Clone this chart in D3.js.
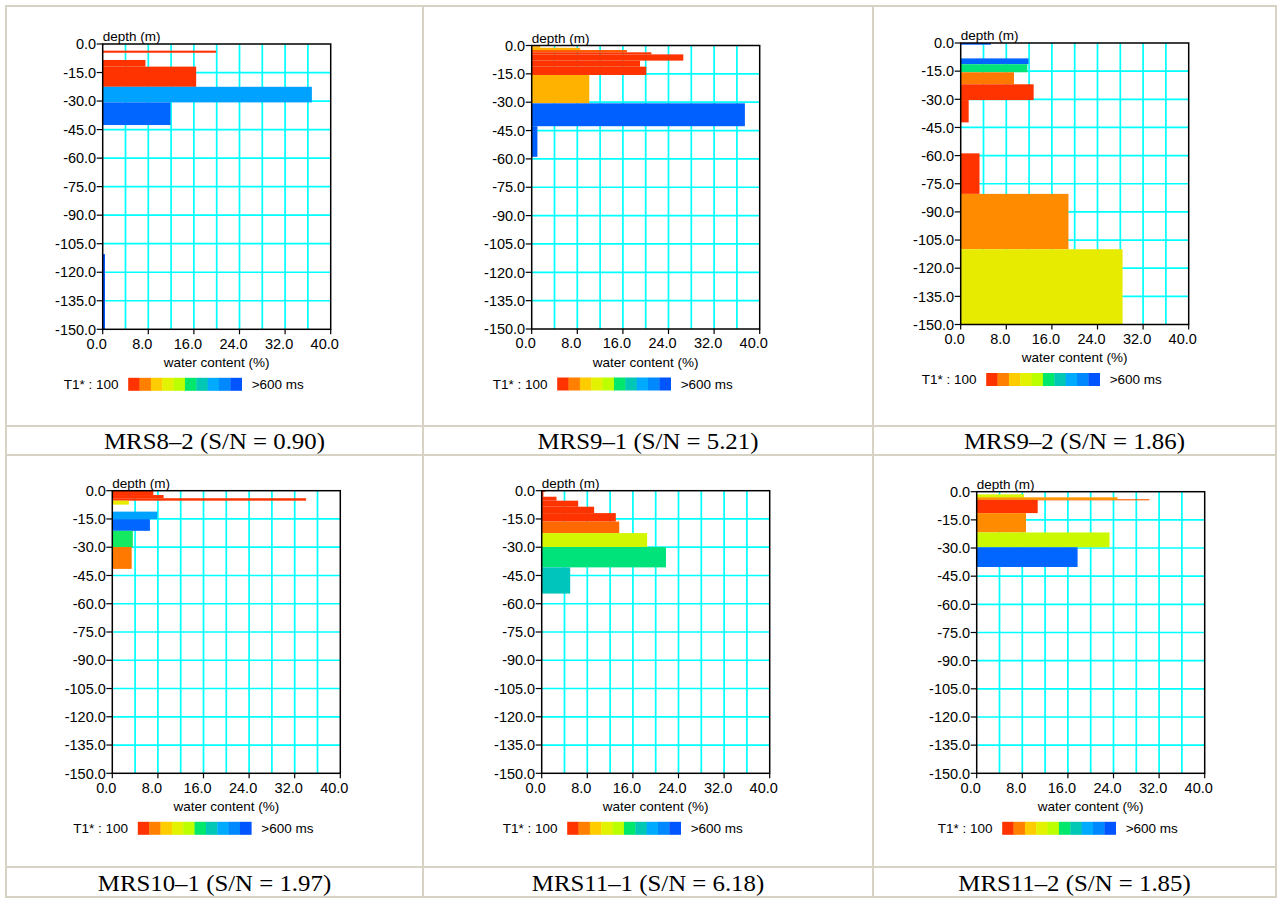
<!DOCTYPE html>
<html><head><meta charset="utf-8">
<script src="https://cdn.jsdelivr.net/npm/d3@7"></script>
<style>body{margin:0;background:#fff} svg{display:block}</style>
</head><body>
<svg id="c" width="1279" height="899"></svg>
<script>
// ---------------- DATA ----------------
const siteLabels = ["MRS8–2 (S/N = 0.90)", "MRS9–1 (S/N = 5.21)", "MRS9–2 (S/N = 1.86)",
                    "MRS10–1 (S/N = 1.97)", "MRS11–1 (S/N = 6.18)", "MRS11–2 (S/N = 1.85)"];
const xTickValues = [0, 8, 16, 24, 32, 40];
const xTickLabels = ["0.0", "8.0", "16.0", "24.0", "32.0", "40.0"];
const xGridValues = [4, 8, 12, 16, 20, 24, 28, 32, 36];
const yTickValues = [0, -15, -30, -45, -60, -75, -90, -105, -120, -135, -150];
const yTickLabels = ["0.0", "-15.0", "-30.0", "-45.0", "-60.0", "-75.0", "-90.0", "-105.0", "-120.0", "-135.0", "-150.0"];
const yAxisTitle = "depth (m)";
const xAxisTitle = "water content (%)";
const legendLeftText = "T1* : 100";
const legendRightText = ">600 ms";
const t1LegendStops = [125, 175, 225, 275, 325, 375, 425, 475, 525, 575]; // ms, class centres

// layer depth top / bottom (m), water content (%), T1 (ms)
const mrs8_2Top    = [3.5, 8.4, 11.9, 22.5, 30.7, 110.5];
const mrs8_2Bottom = [4.6, 11.9, 22.5, 30.7, 42.6, 150];
const mrs8_2Water  = [19.9, 7.5, 16.4, 36.7, 11.9, 0.4];
const mrs8_2T1     = [110, 110, 110, 487, 558, 600];

const mrs9_1Top    = [0.3, 1.2, 2.4, 3.6, 4.7, 8.0, 11.2, 15.6, 30.6, 42.7];
const mrs9_1Bottom = [1.2, 2.4, 3.6, 4.7, 8.0, 11.2, 15.6, 30.6, 42.7, 58.9];
const mrs9_1Water  = [1.5, 8.5, 16.7, 21.0, 26.6, 19.0, 20.1, 10.1, 37.4, 1.0];
const mrs9_1T1     = [208, 208, 150, 115, 110, 110, 110, 208, 565, 565];

const mrs9_2Top    = [0, 8.2, 11.3, 15.6, 22.0, 30.4, 58.8, 80.4, 109.9];
const mrs9_2Bottom = [0.9, 11.3, 15.6, 22.0, 30.4, 42.3, 80.4, 109.9, 150];
const mrs9_2Water  = [5.3, 11.9, 11.7, 9.35, 12.8, 1.4, 3.3, 18.9, 28.4];
const mrs9_2T1     = [570, 558, 385, 170, 110, 110, 110, 182, 266];

const mrs10_1Top    = [0, 2.3, 4.0, 5.3, 11.1, 15.1, 21.3, 29.9];
const mrs10_1Bottom = [2.3, 4.0, 5.3, 7.4, 15.1, 21.3, 29.9, 41.5];
const mrs10_1Water  = [7.2, 9.0, 34.0, 2.9, 7.9, 6.6, 3.6, 3.4];
const mrs10_1T1     = [110, 110, 115, 266, 487, 558, 370, 170];

const mrs11_1Top    = [0, 0.7, 3.2, 5.3, 8.5, 11.9, 16.4, 22.5, 29.9, 40.7];
const mrs11_1Bottom = [0.7, 3.2, 5.3, 8.5, 11.9, 16.4, 22.5, 29.9, 40.7, 54.6];
const mrs11_1Water  = [0.6, 0.3, 2.6, 6.4, 9.2, 13.0, 13.6, 18.5, 21.8, 5.0];
const mrs11_1T1     = [110, 110, 110, 110, 110, 110, 160, 295, 385, 430];

const mrs11_2Top    = [1.4, 4.0, 3.0, 4.4, 11.4, 21.7, 29.6];
const mrs11_2Bottom = [3.2, 4.6, 4.3, 11.4, 21.7, 29.6, 40.1];
const mrs11_2Water  = [8.3, 30.3, 24.7, 10.7, 8.65, 23.3, 17.7];
const mrs11_2T1     = [285, 150, 190, 110, 182, 305, 558];

const siteTops    = [mrs8_2Top, mrs9_1Top, mrs9_2Top, mrs10_1Top, mrs11_1Top, mrs11_2Top];
const siteBottoms = [mrs8_2Bottom, mrs9_1Bottom, mrs9_2Bottom, mrs10_1Bottom, mrs11_1Bottom, mrs11_2Bottom];
const siteWater   = [mrs8_2Water, mrs9_1Water, mrs9_2Water, mrs10_1Water, mrs11_1Water, mrs11_2Water];
const siteT1      = [mrs8_2T1, mrs9_1T1, mrs9_2T1, mrs10_1T1, mrs11_1T1, mrs11_2T1];

// ---------------- STYLE / LAYOUT ----------------
const legendColors = ["#ff3300", "#ff8000", "#ffcc00", "#e2f200", "#bcff00",
                      "#00e86c", "#00c8b4", "#00aaff", "#0088ff", "#0055ff"];
const frames = [
  {left: 102.7, top: 44,    w: 228, h: 285.3},
  {left: 531.7, top: 45.5,  w: 228, h: 283.5},
  {left: 960.7, top: 43,    w: 228, h: 281.5},
  {left: 112.3, top: 490.7, w: 228, h: 282.6},
  {left: 541.7, top: 490.7, w: 228, h: 282.6},
  {left: 976.7, top: 491.7, w: 228, h: 281.6}
];
const colX = [6, 423, 873, 1276];
const rowY = [6, 426, 455, 867, 897];
const tableColor = "#d6d2c4";
const font = "'Liberation Sans', Arial, sans-serif";

const svg = d3.select("#c");
svg.append("rect").attr("width", 1279).attr("height", 899).attr("fill", "#fff");

const color = d3.scaleLinear().domain(t1LegendStops).range(legendColors)
  .interpolate(d3.interpolateRgb).clamp(true);

// table lines
const tbl = svg.append("g").attr("stroke", tableColor).attr("stroke-width", 2);
colX.forEach(x => tbl.append("line").attr("x1", x).attr("x2", x).attr("y1", rowY[0] - 1).attr("y2", rowY[4] + 1));
rowY.forEach(y => tbl.append("line").attr("x1", colX[0] - 1).attr("x2", colX[3] + 1).attr("y1", y).attr("y2", y));

// captions
siteLabels.forEach((lab, i) => {
  const c = i % 3, r = Math.floor(i / 3);
  const cx = (colX[c] + colX[c + 1]) / 2;
  const cy = r === 0 ? (rowY[1] + rowY[2]) / 2 : (rowY[3] + rowY[4]) / 2;
  svg.append("text").attr("transform", `translate(${cx},${cy + 0.5}) scale(1.08,1)`).attr("dy", "0.35em")
    .attr("text-anchor", "middle").attr("font-family", "'Liberation Serif', 'Times New Roman', serif")
    .attr("font-size", 23).attr("fill", "#000").text(lab);
});

frames.forEach((f, i) => {
  const g = svg.append("g");
  const x = d3.scaleLinear().domain([0, 40]).range([f.left, f.left + f.w]);
  const y = d3.scaleLinear().domain([0, -150]).range([f.top, f.top + f.h]);
  const clipId = "clip" + i;
  g.append("clipPath").attr("id", clipId).append("rect")
    .attr("x", f.left).attr("y", f.top).attr("width", f.w).attr("height", f.h);

  // grid
  const grid = g.append("g").attr("stroke", "#00ffff").attr("stroke-width", 1.7);
  xGridValues.forEach(v => grid.append("line").attr("x1", x(v)).attr("x2", x(v)).attr("y1", f.top).attr("y2", f.top + f.h));
  yTickValues.slice(1, -1).forEach(v => grid.append("line").attr("x1", f.left).attr("x2", f.left + f.w).attr("y1", y(v)).attr("y2", y(v)));

  // bars
  const layers = siteTops[i].map((t, k) => ({top: t, bottom: siteBottoms[i][k], w: siteWater[i][k], t1: siteT1[i][k]}));
  g.append("g").attr("clip-path", `url(#${clipId})`).selectAll("rect").data(layers).join("rect")
    .attr("x", x(0))
    .attr("y", d => y(-d.top))
    .attr("width", d => x(d.w) - x(0))
    .attr("height", d => y(-d.bottom) - y(-d.top))
    .attr("fill", d => color(d.t1));

  // frame
  g.append("rect").attr("x", f.left).attr("y", f.top).attr("width", f.w).attr("height", f.h)
    .attr("fill", "none").attr("stroke", "#000").attr("stroke-width", 1.5);

  // axes
  const ya = g.append("g").attr("font-family", font).attr("font-size", 13.5).attr("fill", "#000");
  yTickValues.forEach((v, k) => {
    ya.append("line").attr("x1", f.left - 6).attr("x2", f.left).attr("y1", y(v)).attr("y2", y(v))
      .attr("stroke", "#000").attr("stroke-width", 1.2);
    ya.append("text").attr("x", f.left - 6.5).attr("y", y(v)).attr("dy", "0.36em")
      .attr("font-size", 14.5).attr("text-anchor", "end").text(yTickLabels[k]);
  });
  xTickValues.forEach((v, k) => {
    ya.append("line").attr("x1", x(v)).attr("x2", x(v)).attr("y1", f.top + f.h).attr("y2", f.top + f.h + 5)
      .attr("stroke", "#000").attr("stroke-width", 1.2);
    ya.append("text").attr("x", x(v) - 6).attr("y", f.top + f.h + 14).attr("dy", "0.36em")
      .attr("font-size", 14.5).attr("text-anchor", "middle").text(xTickLabels[k]);
  });
  // titles
  ya.append("text").attr("x", f.left).attr("y", f.top - 3).text(yAxisTitle);
  ya.append("text").attr("x", f.left + f.w / 2).attr("y", f.top + f.h + 33).attr("dy", "0.36em")
    .attr("text-anchor", "middle").text(xAxisTitle);

  // legend
  const ly = f.top + f.h + 55;
  ya.append("text").attr("x", f.left - 39).attr("y", ly).attr("dy", "0.36em").text(legendLeftText);
  const cw = 11.35, lx = f.left + 25.5;
  legendColors.forEach((c, k) => {
    ya.append("rect").attr("x", lx + k * cw).attr("y", ly - 6.5).attr("width", cw + 0.3).attr("height", 13)
      .attr("fill", c);
  });
  ya.append("text").attr("x", lx + 10 * cw + 10).attr("y", ly).attr("dy", "0.36em").text(legendRightText);
});
</script>
</body></html>
